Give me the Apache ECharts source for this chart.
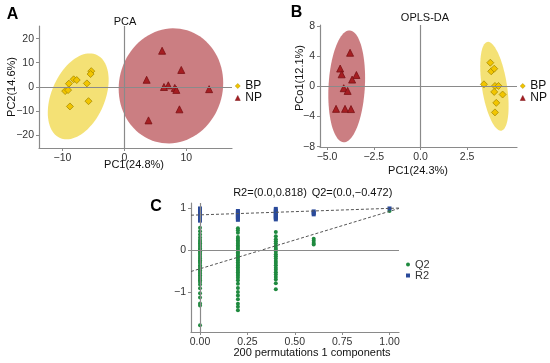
<!DOCTYPE html>
<html><head><meta charset="utf-8">
<script src="https://cdn.jsdelivr.net/npm/echarts@6/dist/echarts.min.js"></script>
<style>html,body{margin:0;padding:0;background:#fff}#c{width:550px;height:363px}</style>
</head><body><div id="c"></div>
<script>
// ---------- Panel A: PCA ----------
const pcaBP = [[-5.35,6.5],[-5.46,5.3],[-8.2,3.1],[-7.7,2.8],[-8.97,1.3],[-6.06,1.4],[-9.57,-1.8],[-9.1,-1.4],[-5.8,-6.0],[-8.8,-8.2]];
const pcaNP = [[6.1,15.0],[9.2,7.0],[3.6,2.9],[7.1,0.6],[6.4,-0.1],[8.15,-0.5],[8.4,-1.3],[13.7,-1.0],[8.9,-9.4],[3.9,-14.0]];
// ellipse: [centerX, centerY, halfWidthX, halfHeightY, correlation]
const pcaEllipseBP = [-7.46,-4.0,4.92,17.9,0.38];
const pcaEllipseNP = [7.53,0.37,8.45,23.96,0.05];
const pcaXTicks = [-10,0,10];
const pcaYTicks = [-20,-10,0,10,20];

// ---------- Panel B: OPLS-DA ----------
const oplsBP = [[3.74,3.18],[3.79,2.03],[3.95,2.38],[3.4,0.3],[3.99,0.08],[4.18,0.08],[3.95,-0.71],[4.4,-1.06],[4.06,-2.17],[3.99,-3.44]];
const oplsNP = [[-3.77,4.5],[-4.3,2.4],[-4.22,1.63],[-3.43,1.54],[-3.66,0.93],[-4.11,-0.22],[-3.9,-0.58],[-4.52,-2.97],[-4.04,-2.97],[-3.72,-3.0]];
const oplsEllipseBP = [3.96,0.04,0.76,5.92,-0.45];
const oplsEllipseNP = [-3.95,0.03,0.985,7.45,0.15];
const oplsXTicks = [-5,-2.5,0,2.5];
const oplsYTicks = [-8,-4,0,4,8];

// ---------- Panel C: permutation test ----------
const permSimilarity = [0,0.2,0.4,0.6,1];
const q2Values = [
  [0.53,0.45,0.37,0.30,0.24,0.20,0.16,0.12,0.08,0.04,0.01,-0.03,-0.07,-0.11,-0.16,-0.20,-0.24,-0.28,-0.31,-0.36,-0.40,-0.44,-0.48,-0.52,-0.56,-0.60,-0.64,-0.68,-0.72,-0.76,-0.82,-0.91,-1.03,-1.13,-1.27,-1.32,-1.79],
  [0.52,0.47,0.41,0.31,0.27,0.23,0.19,0.15,0.11,0.07,0.03,-0.01,-0.05,-0.09,-0.13,-0.17,-0.21,-0.25,-0.29,-0.33,-0.37,-0.41,-0.45,-0.49,-0.53,-0.57,-0.61,-0.66,-0.72,-0.80,-0.90,-1.00,-1.08,-1.17,-1.28,-1.35,-1.43],
  [0.43,0.33,0.26,0.21,0.16,0.10,0.05,0.01,-0.04,-0.10,-0.15,-0.20,-0.26,-0.31,-0.36,-0.42,-0.47,-0.53,-0.58,-0.64,-0.70,-0.79,-0.93],
  [0.27,0.22,0.17,0.13],
  [0.93]
];
const r2Values = [
  [0.99,0.96,0.93,0.90,0.87,0.84,0.81,0.78,0.75,0.72,0.70],
  [0.93,0.90,0.87,0.84,0.81,0.78,0.75,0.72],
  [0.98,0.94,0.91,0.88,0.85,0.82,0.79,0.76,0.73],
  [0.92,0.88,0.85],
  [0.99]
];
const r2FitLine = [[-0.0475,0.83],[1.05,1.0]];
const q2FitLine = [[-0.0475,-0.51],[1.05,0.99]];
const permXTicks = [0,0.25,0.5,0.75,1];
const permXLabels = ['0.00','0.25','0.50','0.75','1.00'];
const permYTicks = [-1,0,1];

// ---------- styles ----------
const FONT = "'Liberation Sans', Arial, sans-serif";
const AXIS_GRAY = '#8a8a8a';
const YELLOW = '#F2C500', YELLOW_EDGE = '#A88B00';
const RED = '#A61E22';
const GREEN = '#1f8a3f', BLUE = '#2a4a9a';
const minus = s => String(s).replace('-', '\u2212');

function valueAxis(gridIndex, min, max, ticks, fmt) {
  return {
    type: 'value', gridIndex, min, max,
    splitLine: { show: false },
    axisLine: { show: true, onZero: false, lineStyle: { color: AXIS_GRAY, width: 1.2 } },
    axisTick: { show: true, customValues: ticks, length: 3, lineStyle: { color: AXIS_GRAY } },
    axisLabel: { customValues: ticks, formatter: fmt, color: '#333', fontSize: 10.5, margin: 5, fontFamily: FONT }
  };
}

function ellipseRender(fill, opacity) {
  return function (params, api) {
    const cx = api.value(0), cy = api.value(1), hx = api.value(2), hy = api.value(3), r = api.value(4);
    const s = Math.sqrt(1 - r * r);
    const pts = [];
    for (let i = 0; i < 90; i++) {
      const t = i / 90 * 2 * Math.PI;
      pts.push(api.coord([cx + hx * Math.cos(t), cy + hy * (r * Math.cos(t) + s * Math.sin(t))]));
    }
    return { type: 'polygon', shape: { points: pts }, style: { fill: fill, opacity: opacity } };
  };
}

const zeroLines = (both) => ({
  silent: true, symbol: 'none', label: { show: false }, animation: false,
  lineStyle: { color: AXIS_GRAY, type: 'solid', width: 1.2 },
  emphasis: { disabled: true },
  data: both ? [{ xAxis: 0 }, { yAxis: 0 }] : [{ yAxis: 0 }]
});

function ellipseSeries(name, ax, data, fill, opacity, withLines) {
  const s = {
    name, type: 'custom', xAxisIndex: ax, yAxisIndex: ax, data: [data],
    renderItem: ellipseRender(fill, opacity), silent: true, z: 1
  };
  if (withLines) s.markLine = zeroLines(true);
  return s;
}

function pointSeries(name, ax, data, symbol, color, border) {
  return {
    name, type: 'scatter', xAxisIndex: ax, yAxisIndex: ax, data, symbol,
    symbolSize: 7, z: 3,
    itemStyle: { color, borderColor: border, borderWidth: 0.8, opacity: 1 }
  };
}

const pairs = (xs, vals) => xs.flatMap((x, i) => vals[i].map(v => [x, v]));

const texts = [
  ['A', 12.5, 14.5, 16, 'bold', 0, '#000'],
  ['B', 296.5, 13, 16, 'bold', 0, '#000'],
  ['C', 156, 206.5, 16, 'bold', 0, '#000'],
  ['PCA', 125, 22, 11, 'normal', 0, '#111'],
  ['OPLS-DA', 425, 17.5, 11, 'normal', 0, '#111'],
  ['PC1(24.8%)', 134, 165, 11, 'normal', 0, '#111'],
  ['PC2(14.6%)', 12, 87, 11, 'normal', Math.PI / 2, '#111'],
  ['PC1(24.3%)', 418, 171, 11, 'normal', 0, '#111'],
  ['PCo1(12.1%)', 300, 78, 11, 'normal', Math.PI / 2, '#111'],
  ['200 permutations 1 components', 312, 353, 11, 'normal', 0, '#111'],
  ['R2=(0.0,0.818)', 270, 193, 11, 'normal', 0, '#111'],
  ['Q2=(0.0,\u22120.472)', 352, 193, 11, 'normal', 0, '#111']
];

const legendAB = (left) => ({
  left, top: 80, orient: 'vertical', itemGap: 0, itemWidth: 5, itemHeight: 5, padding: 0,
  data: [{ name: 'BP', icon: 'diamond' }, { name: 'NP', icon: 'triangle' }],
  itemStyle: { borderWidth: 0.5 },
  textStyle: { fontSize: 12, color: '#111', lineHeight: 8, fontFamily: FONT }, selectedMode: false
});

const option = {
  animation: false,
  backgroundColor: '#fff',
  grid: [
    { left: 39, top: 26, width: 193, height: 122 },
    { left: 320, top: 25, width: 197, height: 122 },
    { left: 191, top: 203, width: 208, height: 129 }
  ],
  xAxis: [
    valueAxis(0, -13.8, 17.4, pcaXTicks, v => minus(v)),
    valueAxis(1, -5.38, 5.17, oplsXTicks, v => minus(Number(v).toFixed(1))),
    valueAxis(2, -0.0475, 1.05, permXTicks, v => permXLabels[permXTicks.indexOf(v)] ?? '')
  ],
  yAxis: [
    valueAxis(0, -25.5, 25.3, pcaYTicks, v => minus(v)),
    valueAxis(1, -8.05, 8.2, oplsYTicks, v => minus(v)),
    valueAxis(2, -1.95, 1.12, permYTicks, v => minus(v))
  ],
  legend: [
    legendAB(235),
    legendAB(520),
    { left: 406, top: 259, orient: 'vertical', itemGap: 0, itemWidth: 4, itemHeight: 4, padding: 0,
      data: [{ name: 'Q2', icon: 'circle' }, { name: 'R2', icon: 'rect' }],
      textStyle: { fontSize: 11, color: '#333', lineHeight: 8, fontFamily: FONT }, selectedMode: false }
  ],
  graphic: texts.map(t => ({
    type: 'text', x: t[1], y: t[2], rotation: t[5], silent: true,
    style: { text: t[0], fontSize: t[3], fontWeight: t[4], fill: t[6], fontFamily: FONT,
      textAlign: 'center', textVerticalAlign: 'middle' }
  })),
  series: [
    ellipseSeries('ellA_BP', 0, pcaEllipseBP, '#F0D43A', 0.7, true),
    ellipseSeries('ellA_NP', 0, pcaEllipseNP, '#A8282E', 0.6, false),
    pointSeries('BP', 0, pcaBP, 'diamond', YELLOW, YELLOW_EDGE),
    pointSeries('NP', 0, pcaNP, 'triangle', RED, '#7a1014'),

    ellipseSeries('ellB_BP', 1, oplsEllipseBP, '#F0D43A', 0.7, true),
    ellipseSeries('ellB_NP', 1, oplsEllipseNP, '#A8282E', 0.6, false),
    pointSeries('BP', 1, oplsBP, 'diamond', YELLOW, YELLOW_EDGE),
    pointSeries('NP', 1, oplsNP, 'triangle', RED, '#7a1014'),

    { name: 'zeroC', type: 'line', xAxisIndex: 2, yAxisIndex: 2, data: [], markLine: zeroLines(true), silent: true },
    { name: 'R2 fit', type: 'line', xAxisIndex: 2, yAxisIndex: 2, data: r2FitLine, symbol: 'none', silent: true,
      lineStyle: { color: '#555', width: 1, type: [3, 2] }, z: 4 },
    { name: 'Q2 fit', type: 'line', xAxisIndex: 2, yAxisIndex: 2, data: q2FitLine, symbol: 'none', silent: true,
      lineStyle: { color: '#555', width: 1, type: [3, 2] }, z: 4 },
    { name: 'Q2', type: 'scatter', xAxisIndex: 2, yAxisIndex: 2, data: pairs(permSimilarity, q2Values),
      symbol: 'circle', symbolSize: 4, itemStyle: { color: GREEN, opacity: 1 }, z: 3 },
    { name: 'R2', type: 'scatter', xAxisIndex: 2, yAxisIndex: 2, data: pairs(permSimilarity, r2Values),
      symbol: 'rect', symbolSize: 4, itemStyle: { color: BLUE, opacity: 1 }, z: 3 }
  ]
};
const chart = echarts.init(document.getElementById('c'));
chart.setOption(option);
</script></body></html>
